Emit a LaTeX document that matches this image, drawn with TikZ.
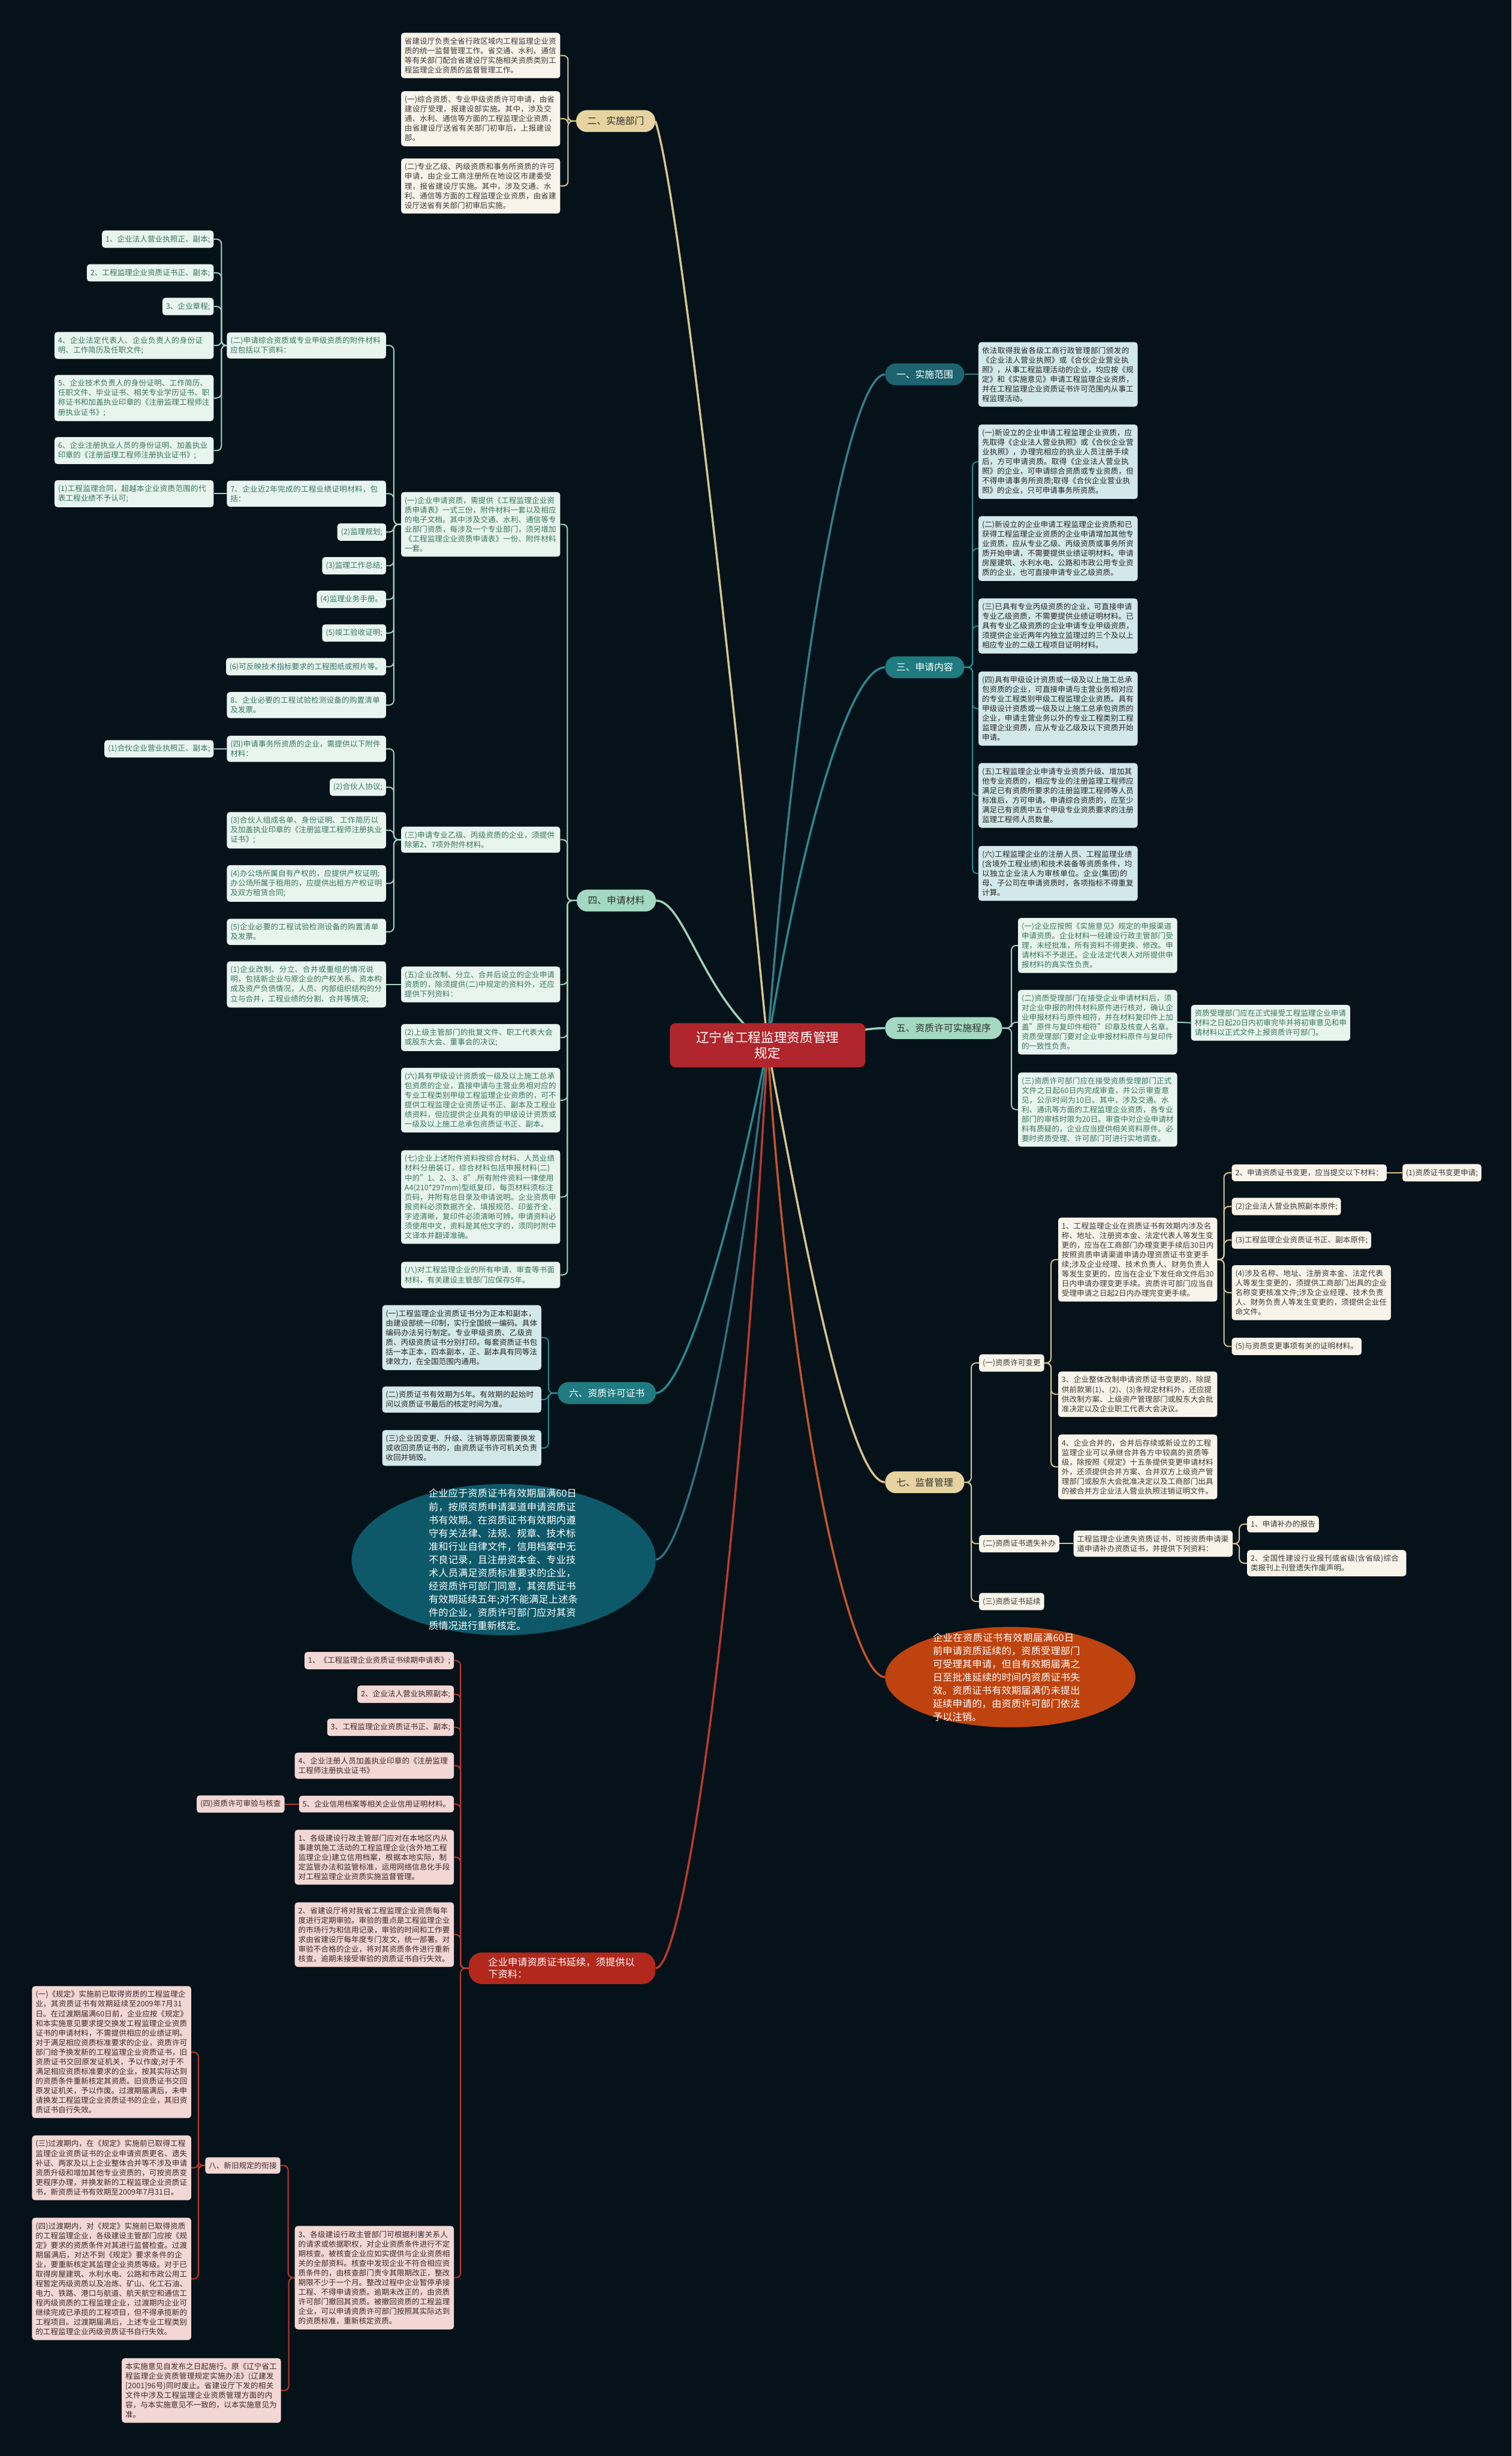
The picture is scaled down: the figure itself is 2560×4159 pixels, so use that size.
\documentclass[tikz,border=0pt]{standalone}
\usepackage{fontspec}
\setmainfont{Noto Sans CJK SC}
\XeTeXlinebreaklocale "zh"
\XeTeXlinebreakskip=0pt plus 1pt
\usetikzlibrary{calc,positioning,shapes.geometric,backgrounds}
\definecolor{bgnavy}{HTML}{06121A}
\definecolor{rootred}{HTML}{B0262C}
\definecolor{goldpill}{HTML}{E6D3A0}
\definecolor{goldline}{HTML}{D9C58E}
\definecolor{creamfill}{HTML}{F8F4E9}
\definecolor{creamtext}{HTML}{3A3A3A}
\definecolor{mintpill}{HTML}{A3D9C2}
\definecolor{mintline}{HTML}{9FD4BD}
\definecolor{mintfill}{HTML}{E8F5EF}
\definecolor{minttext}{HTML}{3A7260}
\definecolor{tealpill}{HTML}{1F7B80}
\definecolor{tealline}{HTML}{2A8A8E}
\definecolor{bluefill}{HTML}{D3E8EA}
\definecolor{bluetext}{HTML}{262626}
\definecolor{scopepill}{HTML}{1D6470}
\definecolor{scopeline}{HTML}{347E8A}
\definecolor{ellteal}{HTML}{0D5969}
\definecolor{ellorange}{HTML}{BF430E}
\definecolor{renewred}{HTML}{B2281D}
\definecolor{renewline}{HTML}{BE3A2A}
\definecolor{pinkfill}{HTML}{F3D7D4}
\definecolor{pinktext}{HTML}{3A2A2A}
\definecolor{darktext}{HTML}{2F2F2F}
\tikzset{
  every node/.style={font=\fontsize{12.8}{16.3}\selectfont},
  card/.style={rounded corners=5pt,inner xsep=6pt,inner ysep=8pt,align=left},
  wide/.style={text width=257.5pt},
  creamcard/.style={card,fill=creamfill,text=creamtext},
  mintcard/.style={card,fill=mintfill,text=minttext},
  bluecard/.style={card,fill=bluefill,text=bluetext},
  pinkcard/.style={card,fill=pinkfill,text=pinktext},
  pill/.style={rounded corners=18pt,minimum height=37pt,inner xsep=19pt,font=\fontsize{16}{19}\selectfont},
  bigtext/.style={text=white,text width=254pt,align=left,font=\fontsize{16.5}{22.4}\selectfont},
  branch/.style={line width=3.5pt},
  link/.style={line width=2pt,rounded corners=8pt}
}
\begin{document}
\begin{tikzpicture}[x=1pt,y=-1pt]
\useasboundingbox (0,0) rectangle (2560,4159);
% root and main branches
\node[rounded corners=10pt,fill=rootred,text=white,align=center,minimum width=331pt,minimum height=75pt,font=\fontsize{22}{27}\selectfont] (root) at (1300,1770) {辽宁省工程监理资质管理\\规定};
\node[pill,fill=goldpill,text=darktext,anchor=east] (sec2) at (1110,205) {二、实施部门};
\node[pill,fill=mintpill,text=darktext,anchor=east] (sec4) at (1111,1525) {四、申请材料};
\node[pill,fill=tealpill,text=white,anchor=east] (sec6) at (1111,2359) {六、资质许可证书};
\node[pill,fill=scopepill,text=white,anchor=west] (sec1) at (1499,634) {一、实施范围};
\node[pill,fill=tealpill,text=white,anchor=west] (sec3) at (1499,1130) {三、申请内容};
\node[pill,fill=mintpill,text=darktext,anchor=west] (sec5) at (1499,1741) {五、资质许可实施程序};
\node[pill,fill=goldpill,text=darktext,anchor=west] (sec7) at (1499,2510) {七、监督管理};
\node[ellipse,fill=ellteal,minimum width=515pt,minimum height=256pt,inner sep=0pt] (keep) at (853,2641) {};
\node[bigtext] at (keep.center) {企业应于资质证书有效期届满60日前，按原资质申请渠道申请资质证书有效期。在资质证书有效期内遵守有关法律、法规、规章、技术标准和行业自律文件，信用档案中无不良记录，且注册资本金、专业技术人员满足资质标准要求的企业，经资质许可部门同意，其资质证书有效期延续五年;对不能满足上述条件的企业，资质许可部门应对其资质情况进行重新核定。};
\node[ellipse,fill=ellorange,minimum width=424pt,minimum height=170pt,inner sep=0pt] (lapse) at (1711,2840) {};
\node[bigtext] at ([xshift=-4pt]lapse.center) {企业在资质证书有效期届满60日前申请资质延续的，资质受理部门可受理其申请，但自有效期届满之日至批准延续的时间内资质证书失效。资质证书有效期届满仍未提出延续申请的，由资质许可部门依法予以注销。};
\node[fill=renewred,text=white,rounded corners=22pt,text width=250pt,align=left,inner xsep=33pt,inner ysep=9pt,font=\fontsize{16.5}{20}\selectfont] (renew) at (952,3333) {企业申请资质证书延续，须提供以下资料：};

% 二、实施部门
\node[creamcard,wide,anchor=east] (d1) at (949,94) {省建设厅负责全省行政区域内工程监理企业资质的统一监督管理工作。省交通、水利、通信等有关部门配合省建设厅实施相关资质类别工程监理企业资质的监督管理工作。};
\node[creamcard,wide,anchor=east] (d2) at (949,201) {(一)综合资质、专业甲级资质许可申请，由省建设厅受理，报建设部实施。其中，涉及交通、水利、通信等方面的工程监理企业资质，由省建设厅送省有关部门初审后，上报建设部。};
\node[creamcard,wide,anchor=east] (d3) at (949,315) {(二)专业乙级、丙级资质和事务所资质的许可申请，由企业工商注册所在地设区市建委受理，报省建设厅实施。其中，涉及交通、水利、通信等方面的工程监理企业资质，由省建设厅送省有关部门初审后实施。};

% 四、申请材料
\node[mintcard,wide,anchor=east] (m1) at (949,888) {(一)企业申请资质，需提供《工程监理企业资质申请表》一式三份，附件材料一套以及相应的电子文档。其中涉及交通、水利、通信等专业部门资质，每涉及一个专业部门，须另增加《工程监理企业资质申请表》一份、附件材料一套。};
\node[mintcard,wide,anchor=east] (m3) at (949,1422) {(三)申请专业乙级、丙级资质的企业，须提供除第2、7项外附件材料。};
\node[mintcard,wide,anchor=east] (m5) at (949,1667) {(五)企业改制、分立、合并后设立的企业申请资质的，除须提供(二)中规定的资料外，还应提供下列资料：};
\node[mintcard,wide,anchor=east] (m5b) at (949,1757) {(2)上级主管部门的批复文件、职工代表大会或股东大会、董事会的决议;};
\node[mintcard,wide,anchor=east] (m6) at (949,1863) {(六)具有甲级设计资质或一级及以上施工总承包资质的企业，直接申请与主营业务相对应的专业工程类别甲级工程监理企业资质的，可不提供工程监理企业资质证书正、副本及工程业绩资料，但应提供企业具有的甲级设计资质或一级及以上施工总承包资质证书正、副本。};
\node[mintcard,wide,anchor=east] (m7) at (949,2027) {(七)企业上述附件资料按综合材料、人员业绩材料分册装订，综合材料包括申报材料(二)中的"1、2、3、8".所有附件资料一律使用A4(210*297mm)型纸复印，每页材料须标注页码，并附有总目录及申请说明。企业资质申报资料必须数据齐全、填报规范、印鉴齐全、字迹清晰，复印件必须清晰可辨。申请资料必须使用中文，资料是其他文字的，须同时附中文译本并翻译准确。};
\node[mintcard,wide,anchor=east] (m8) at (949,2159) {(八)对工程监理企业的所有申请、审查等书面材料，有关建设主管部门应保存5年。};
\node[mintcard,wide,anchor=east] (m1a) at (654,585) {(二)申请综合资质或专业甲级资质的附件材料应包括以下资料：};
\node[mintcard,wide,anchor=east] (m1b) at (654,836) {7、企业近2年完成的工程业绩证明材料，包括：};
\node[mintcard,anchor=east] (m1c) at (654,901) {(2)监理规划;};
\node[mintcard,anchor=east] (m1d) at (654,958) {(3)监理工作总结;};
\node[mintcard,anchor=east] (m1e) at (654,1015) {(4)监理业务手册。};
\node[mintcard,anchor=east] (m1f) at (654,1072) {(5)竣工验收证明;};
\node[mintcard,anchor=east] (m1g) at (654,1129) {(6)可反映技术指标要求的工程图纸或照片等。};
\node[mintcard,wide,anchor=east] (m1h) at (654,1194) {8、企业必要的工程试验检测设备的购置清单及发票。};
\node[mintcard,wide,anchor=east] (m3a) at (654,1268) {(四)申请事务所资质的企业，需提供以下附件材料：};
\node[mintcard,anchor=east] (m3b) at (654,1333) {(2)合伙人协议;};
\node[mintcard,wide,anchor=east] (m3c) at (654,1406) {(3)合伙人组成名单、身份证明、工作简历以及加盖执业印章的《注册监理工程师注册执业证书》;};
\node[mintcard,wide,anchor=east] (m3d) at (654,1496) {(4)办公场所属自有产权的，应提供产权证明;办公场所属于租用的，应提供出租方产权证明及双方租赁合同;};
\node[mintcard,wide,anchor=east] (m3e) at (654,1578) {(5)企业必要的工程试验检测设备的购置清单及发票。};
\node[mintcard,wide,anchor=east] (m5a) at (654,1667) {(1)企业改制、分立、合并或重组的情况说明，包括新企业与原企业的产权关系、资本构成及资产负债情况，人员、内部组织结构的分立与合并，工程业绩的分割、合并等情况;};
\node[mintcard,anchor=east] (a1) at (362,405) {1、企业法人营业执照正、副本;};
\node[mintcard,anchor=east] (a2) at (362,462) {2、工程监理企业资质证书正、副本;};
\node[mintcard,anchor=east] (a3) at (362,519) {3、企业章程;};
\node[mintcard,wide,anchor=east] (a4) at (362,585) {4、企业法定代表人、企业负责人的身份证明、工作简历及任职文件;};
\node[mintcard,wide,anchor=east] (a5) at (362,674) {5、企业技术负责人的身份证明、工作简历、任职文件、毕业证书、相关专业学历证书、职称证书和加盖执业印章的《注册监理工程师注册执业证书》;};
\node[mintcard,wide,anchor=east] (a6) at (362,763) {6、企业注册执业人员的身份证明、加盖执业印章的《注册监理工程师注册执业证书》;};
\node[mintcard,wide,anchor=east] (b1) at (362,836) {(1)工程监理合同，超越本企业资质范围的代表工程业绩不予认可;};
\node[mintcard,anchor=east] (c1) at (362,1268) {(1)合伙企业营业执照正、副本;};

% 六、资质许可证书
\node[bluecard,wide,anchor=east] (k1) at (917,2265) {(一)工程监理企业资质证书分为正本和副本，由建设部统一印制，实行全国统一编码。具体编码办法另行制定。专业甲级资质、乙级资质、丙级资质证书分别打印。每套资质证书包括一本正本，四本副本，正、副本具有同等法律效力，在全国范围内通用。};
\node[bluecard,wide,anchor=east] (k2) at (917,2370) {(二)资质证书有效期为5年。有效期的起始时间以资质证书最后的核定时间为准。};
\node[bluecard,wide,anchor=east] (k3) at (917,2452) {(三)企业因变更、升级、注销等原因需要换发或收回资质证书的，由资质证书许可机关负责收回并销毁。};

% 延续资料
\node[pinkcard,anchor=east] (r1) at (769,2812) {1、《工程监理企业资质证书续期申请表》;};
\node[pinkcard,anchor=east] (r2) at (769,2869) {2、企业法人营业执照副本;};
\node[pinkcard,anchor=east] (r3) at (769,2925) {3、工程监理企业资质证书正、副本;};
\node[pinkcard,wide,anchor=east] (r4) at (769,2990) {4、企业注册人员加盖执业印章的《注册监理工程师注册执业证书》};
\node[pinkcard,anchor=east] (r5) at (769,3055) {5、企业信用档案等相关企业信用证明材料。};
\node[pinkcard,wide,anchor=east] (r6) at (769,3145) {1、各级建设行政主管部门应对在本地区内从事建筑施工活动的工程监理企业(含外地工程监理企业)建立信用档案，根据本地实际，制定监管办法和监管标准，运用网络信息化手段对工程监理企业资质实施监督管理。};
\node[pinkcard,wide,anchor=east] (r7) at (769,3276) {2、省建设厅将对我省工程监理企业资质每年度进行定期审验。审验的重点是工程监理企业的市场行为和信用记录，审验的时间和工作要求由省建设厅每年度专门发文，统一部署。对审验不合格的企业，将对其资质条件进行重新核查。逾期未接受审验的资质证书自行失效。};
\node[pinkcard,wide,anchor=east] (r8) at (769,3857) {3、各级建设行政主管部门可根据利害关系人的请求或依据职权，对企业资质条件进行不定期核查。被核查企业应如实提供与企业资质相关的全部资料。核查中发现企业不符合相应资质条件的，由核查部门责令其限期改正，整改期限不少于一个月。整改过程中企业暂停承接工程、不得申请资质。逾期未改正的，由资质许可部门撤回其资质。被撤回资质的工程监理企业，可以申请资质许可部门按照其实际达到的资质标准，重新核定资质。};
\node[pinkcard,anchor=east] (r5a) at (482,3055) {(四)资质许可审验与核查};
\node[pinkcard,anchor=east] (r8a) at (475,3667) {八、新旧规定的衔接};
\node[pinkcard,wide,anchor=east] (r8b) at (476,4048) {本实施意见自发布之日起施行。原《辽宁省工程监理企业资质管理规定实施办法》(辽建发[2001]96号)同时废止。省建设厅下发的相关文件中涉及工程监理企业资质管理方面的内容，与本实施意见不一致的，以本实施意见为准。};
\node[pinkcard,wide,anchor=east] (t1) at (324,3475) {(一)《规定》实施前已取得资质的工程监理企业，其资质证书有效期延续至2009年7月31日。在过渡期届满60日前，企业应按《规定》和本实施意见要求提交换发工程监理企业资质证书的申请材料，不需提供相应的业绩证明。对于满足相应资质标准要求的企业，资质许可部门给予换发新的工程监理企业资质证书，旧资质证书交回原发证机关，予以作废;对于不满足相应资质标准要求的企业，按其实际达到的资质条件重新核定其资质。旧资质证书交回原发证机关，予以作废。过渡期届满后，未申请换发工程监理企业资质证书的企业，其旧资质证书自行失效。};
\node[pinkcard,wide,anchor=east] (t3) at (324,3671) {(三)过渡期内，在《规定》实施前已取得工程监理企业资质证书的企业申请资质更名、遗失补证、两家及以上企业整体合并等不涉及申请资质升级和增加其他专业资质的，可按资质变更程序办理，并换发新的工程监理企业资质证书，新资质证书有效期至2009年7月31日。};
\node[pinkcard,wide,anchor=east] (t4) at (324,3859) {(四)过渡期内，对《规定》实施前已取得资质的工程监理企业，各级建设主管部门应按《规定》要求的资质条件对其进行监督检查。过渡期届满后，对达不到《规定》要求条件的企业，要重新核定其监理企业资质等级。对于已取得房屋建筑、水利水电、公路和市政公用工程暂定丙级资质以及冶炼、矿山、化工石油、电力、铁路、港口与航道、航天航空和通信工程丙级资质的工程监理企业，过渡期内企业可继续完成已承揽的工程项目，但不得承揽新的工程项目。过渡期届满后，上述专业工程类别的工程监理企业丙级资质证书自行失效。};

% 一、实施范围 / 三、申请内容
\node[bluecard,wide,anchor=west] (f1) at (1657,634) {依法取得我省各级工商行政管理部门颁发的《企业法人营业执照》或《合伙企业营业执照》，从事工程监理活动的企业，均应按《规定》和《实施意见》申请工程监理企业资质，并在工程监理企业资质证书许可范围内从事工程监理活动。};
\node[bluecard,wide,anchor=west] (g1) at (1657,782) {(一)新设立的企业申请工程监理企业资质，应先取得《企业法人营业执照》或《合伙企业营业执照》，办理完相应的执业人员注册手续后，方可申请资质。取得《企业法人营业执照》的企业，可申请综合资质或专业资质，但不得申请事务所资质;取得《合伙企业营业执照》的企业，只可申请事务所资质。};
\node[bluecard,wide,anchor=west] (g2) at (1657,929) {(二)新设立的企业申请工程监理企业资质和已获得工程监理企业资质的企业申请增加其他专业资质，应从专业乙级、丙级资质或事务所资质开始申请，不需要提供业绩证明材料。申请房屋建筑、水利水电、公路和市政公用专业资质的企业，也可直接申请专业乙级资质。};
\node[bluecard,wide,anchor=west] (g3) at (1657,1060) {(三)已具有专业丙级资质的企业，可直接申请专业乙级资质，不需要提供业绩证明材料。已具有专业乙级资质的企业申请专业甲级资质，须提供企业近两年内独立监理过的三个及以上相应专业的二级工程项目证明材料。};
\node[bluecard,wide,anchor=west] (g4) at (1657,1200) {(四)具有甲级设计资质或一级及以上施工总承包资质的企业，可直接申请与主营业务相对应的专业工程类别甲级工程监理企业资质。具有甲级设计资质或一级及以上施工总承包资质的企业，申请主营业务以外的专业工程类别工程监理企业资质，应从专业乙级及以下资质开始申请。};
\node[bluecard,wide,anchor=west] (g5) at (1657,1347) {(五)工程监理企业申请专业资质升级、增加其他专业资质的，相应专业的注册监理工程师应满足已有资质所要求的注册监理工程师等人员标准后，方可申请。申请综合资质的，应至少满足已有资质中五个甲级专业资质要求的注册监理工程师人员数量。};
\node[bluecard,wide,anchor=west] (g6) at (1657,1479) {(六)工程监理企业的注册人员、工程监理业绩(含境外工程业绩)和技术装备等资质条件，均以独立企业法人为审核单位。企业(集团)的母、子公司在申请资质时，各项指标不得重复计算。};

% 五、资质许可实施程序
\node[mintcard,wide,anchor=west] (h1) at (1724,1601) {(一)企业应按照《实施意见》规定的申报渠道申请资质。企业材料一经建设行政主管部门受理，未经批准，所有资料不得更换、修改。申请材料不予退还。企业法定代表人对所提供申报材料的真实性负责。};
\node[mintcard,wide,anchor=west] (h2) at (1724,1731) {(二)资质受理部门在接受企业申请材料后，须对企业申报的附件材料原件进行核对，确认企业申报材料与原件相符，并在材料复印件上加盖"原件与复印件相符"印章及核查人名章。资质受理部门要对企业申报材料原件与复印件的一致性负责。};
\node[mintcard,wide,anchor=west] (h2a) at (2017,1732) {资质受理部门应在正式接受工程监理企业申请材料之日起20日内初审完毕并将初审意见和申请材料以正式文件上报资质许可部门。};
\node[mintcard,wide,anchor=west] (h3) at (1724,1879) {(三)资质许可部门应在接受资质受理部门正式文件之日起60日内完成审查，并公示审查意见，公示时间为10日。其中，涉及交通、水利、通讯等方面的工程监理企业资质，各专业部门的审核时限为20日。审查中对企业申请材料有质疑的，企业应当提供相关资料原件。必要时资质受理、许可部门可进行实地调查。};

% 七、监督管理
\node[creamcard,anchor=west] (v1) at (1658,2308) {(一)资质许可变更};
\node[creamcard,anchor=west] (v2) at (1658,2614) {(二)资质证书遗失补办};
\node[creamcard,anchor=west] (v3) at (1658,2712) {(三)资质证书延续};
\node[creamcard,wide,anchor=west] (w1) at (1792,2133) {1、工程监理企业在资质证书有效期内涉及名称、地址、注册资本金、法定代表人等发生变更的，应当在工商部门办理变更手续后30日内按照资质申请渠道申请办理资质证书变更手续;涉及企业经理、技术负责人、财务负责人等发生变更的，应当在企业下发任命文件后30日内申请办理变更手续。资质许可部门应当自受理申请之日起2日内办理完变更手续。};
\node[creamcard,wide,anchor=west] (w3) at (1792,2361) {3、企业整体改制申请资质证书变更的，除提供前款第(1)、(2)、(3)条规定材料外，还应提供改制方案、上级资产管理部门或股东大会批准决定以及企业职工代表大会决议。};
\node[creamcard,wide,anchor=west] (w4) at (1792,2484) {4、企业合并的，合并后存续或新设立的工程监理企业可以承继合并各方中较高的资质等级，除按照《规定》十五条提供变更申请材料外，还须提供合并方案、合并双方上级资产管理部门或股东大会批准决定以及工商部门出具的被合并方企业法人营业执照注销证明文件。};
\node[creamcard,anchor=west] (x2) at (2086,1986) {2、申请资质证书变更，应当提交以下材料：};
\node[creamcard,anchor=west] (x2a) at (2375,1986) {(1)资质证书变更申请;};
\node[creamcard,anchor=west] (x3) at (2086,2043) {(2)企业法人营业执照副本原件;};
\node[creamcard,anchor=west] (x4) at (2086,2100) {(3)工程监理企业资质证书正、副本原件;};
\node[creamcard,wide,anchor=west] (x5) at (2086,2189) {(4)涉及名称、地址、注册资本金、法定代表人等发生变更的，须提供工商部门出具的企业名称变更核准文件;涉及企业经理、技术负责人、财务负责人等发生变更的，须提供企业任命文件。};
\node[creamcard,anchor=west] (x6) at (2086,2280) {(5)与资质变更事项有关的证明材料。};
\node[creamcard,wide,anchor=west] (y1) at (1818,2614) {工程监理企业遗失资质证书，可按资质申请渠道申请补办资质证书，并提供下列资料：};
\node[creamcard,anchor=west] (y1a) at (2112,2581) {1、申请补办的报告};
\node[creamcard,wide,anchor=west] (y1b) at (2112,2647) {2、全国性建设行业报刊或省级(含省级)综合类报刊上刊登遗失作废声明。};

\begin{pgfonlayer}{background}
\fill[bgnavy] (0,0) rectangle (2560,4159);
% branches from the root
\draw[branch,draw=goldline] (root.center) .. controls (1235,1100) and (1150,330) .. (sec2.east);
\draw[branch,draw=mintline] (root.center) .. controls (1190,1690) and (1160,1525) .. (sec4.east);
\draw[branch,draw=tealline] (root.center) .. controls (1225,2150) and (1150,2359) .. (sec6.east);
\draw[branch,draw=ellteal!85!white] (root.center) .. controls (1235,2350) and (1150,2641) .. (keep.east);
\draw[branch,draw=renewline] (root.center) .. controls (1250,2700) and (1160,3333) .. (renew.east);
\draw[branch,draw=scopeline] (root.center) .. controls (1350,1100) and (1440,634) .. (sec1.west);
\draw[branch,draw=tealline] (root.center) .. controls (1360,1400) and (1440,1130) .. (sec3.west);
\draw[branch,draw=mintline] (root.center) .. controls (1400,1760) and (1450,1741) .. (sec5.west);
\draw[branch,draw=goldline] (root.center) .. controls (1360,2100) and (1440,2510) .. (sec7.west);
\draw[branch,draw=ellorange!90!white] (root.center) .. controls (1340,2400) and (1440,2840) .. (lapse.west);
% left side links
\foreach \c in {d1,d2,d3} \draw[link,draw=goldline] (sec2.west) -- ($(\c.east|-sec2.west)+(13,0)$) |- (\c.east);
\foreach \c in {m1,m3,m5,m5b,m6,m7,m8} \draw[link,draw=mintline] (sec4.west) -- ($(\c.east|-sec4.west)+(12,0)$) |- (\c.east);
\foreach \c in {m1a,m1b,m1c,m1d,m1e,m1f,m1g,m1h} \draw[link,draw=mintline] (m1.west) -- ($(\c.east|-m1.west)+(13,0)$) |- (\c.east);
\foreach \c in {a1,a2,a3,a4,a5,a6} \draw[link,draw=mintline] (m1a.west) -- ($(\c.east|-m1a.west)+(13,0)$) |- (\c.east);
\draw[link,draw=mintline] (m1b.west) -- (b1.east);
\foreach \c in {m3a,m3b,m3c,m3d,m3e} \draw[link,draw=mintline] (m3.west) -- ($(\c.east|-m3.west)+(13,0)$) |- (\c.east);
\draw[link,draw=mintline] (m3a.west) -- (c1.east);
\draw[link,draw=mintline] (m5.west) -- (m5a.east);
\foreach \c in {k1,k2,k3} \draw[link,draw=tealline] (sec6.west) -- ($(\c.east|-sec6.west)+(12,0)$) |- (\c.east);
\foreach \c in {r1,r2,r3,r4,r5,r6,r7,r8} \draw[link,draw=renewline] (renew.west) -- ($(\c.east|-renew.west)+(11,0)$) |- (\c.east);
\draw[link,draw=renewline] (r5.west) -- (r5a.east);
\foreach \c in {r8a,r8b} \draw[link,draw=renewline] (r8.west) -- ($(\c.east|-r8.west)+(13,0)$) |- (\c.east);
\foreach \c in {t1,t3,t4} \draw[link,draw=renewline] (r8a.west) -- ($(\c.east|-r8a.west)+(12,0)$) |- (\c.east);
% right side links
\draw[link,draw=scopeline] (sec1.east) -- (f1.west);
\foreach \c in {g1,g2,g3,g4,g5,g6} \draw[link,draw=tealline] (sec3.east) -- ($(\c.west|-sec3.east)+(-10,0)$) |- (\c.west);
\foreach \c in {h1,h2,h3} \draw[link,draw=mintline] (sec5.east) -- ($(\c.west|-sec5.east)+(-11,0)$) |- (\c.west);
\draw[link,draw=mintline] (h2.east) -- (h2a.west);
\foreach \c in {v1,v2,v3} \draw[link,draw=goldline] (sec7.east) -- ($(\c.west|-sec7.east)+(-13,0)$) |- (\c.west);
\foreach \c in {w1,w3,w4} \draw[link,draw=goldline] (v1.east) -- ($(\c.west|-v1.east)+(-12,0)$) |- (\c.west);
\foreach \c in {x2,x3,x4,x5,x6} \draw[link,draw=goldline] (w1.east) -- ($(\c.west|-w1.east)+(-13,0)$) |- (\c.west);
\draw[link,draw=goldline] (x2.east) -- (x2a.west);
\draw[link,draw=goldline] (v2.east) -- (y1.west);
\foreach \c in {y1a,y1b} \draw[link,draw=goldline] (y1.east) -- ($(\c.west|-y1.east)+(-13,0)$) |- (\c.west);
\end{pgfonlayer}
\end{tikzpicture}
\end{document}
